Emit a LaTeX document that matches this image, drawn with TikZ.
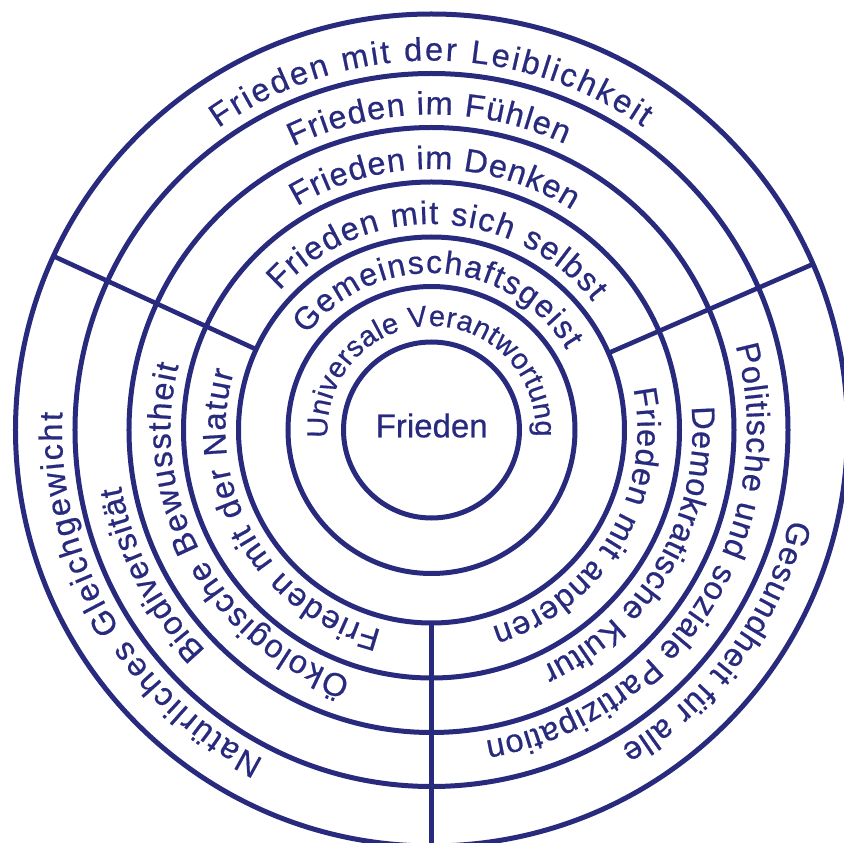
\documentclass[tikz,border=0pt]{standalone}
\usepackage{fontspec}
\setmainfont[FakeBold=0.6,AutoFakeBold=0.6]{Liberation Sans}
\newfontfamily\lblfam[FakeBold=0.6]{Liberation Sans}
\usetikzlibrary{decorations.text}
\definecolor{navy}{RGB}{40,42,126}
\newcommand\ringfont{\lblfam\fontsize{32.5pt}{32.5pt}\selectfont}
\newcommand\midfont{\lblfam\fontsize{32pt}{32pt}\selectfont}
\newcommand\innerfont{\lblfam\fontsize{29pt}{29pt}\selectfont}
\newcommand\corefont{\lblfam\fontsize{33pt}{33pt}\selectfont}
% radius, start angle, end angle, font, text
\newcommand\ringlabel[5]{%
  \path[decorate, decoration={text along path, text={|#4|#5},
        text align={fit to path}, text color=navy}]
    (#2:#1pt) arc[start angle=#2, end angle=#3, radius=#1pt];}
\tikzset{
  ring/.style={draw=navy, line width=5pt},
  divider/.style={draw=navy, line width=4.6pt},
}
\begin{document}
\begin{tikzpicture}
\useasboundingbox (-431.5pt,-413pt) rectangle (411.5pt,430pt);
\coordinate (c) at (0pt,0pt);
% circles
\foreach \r in {88,143.5,193,248,302.5,356.5,416}
  \draw[ring] (c) circle[radius=\r pt];
% dividers
\coordinate (dl1) at (155.3:193pt);
\coordinate (dl2) at (155.3:416pt);
\coordinate (dr1) at (23.5:193pt);
\coordinate (dr2) at (23.5:416pt);
\coordinate (db1) at (270:193pt);
\coordinate (db2) at (270:416pt);
\draw[divider] (dl1) -- (dl2);
\draw[divider] (dr1) -- (dr2);
\draw[divider] (db1) -- (db2);
% centre
\node[text=navy, font=\corefont, inner sep=0pt] (core) at (0.2pt,4.5pt) {Frieden};
% inner rings
\ringlabel{104}{184.4}{-3.7}{\innerfont}{Universale Verantwortung}
\ringlabel{157}{142.6}{30.7}{\midfont}{Gemeinschaftsgeist}
% top sector
\ringlabel{206}{137.5}{38.5}{\ringfont}{Frieden mit sich selbst}
\ringlabel{261}{121}{57.5}{\ringfont}{Frieden im Denken}
\ringlabel{315.5}{116}{65}{\ringfont}{Frieden im Fühlen}
\ringlabel{369.5}{125.2}{55.1}{\ringfont}{Frieden mit der Leiblichkeit}
% left sector
\ringlabel{206}{256}{163.6}{\ringfont}{Frieden mit der Natur}
\ringlabel{261}{252}{165.7}{\ringfont}{Ökologische Bewusstheit}
\ringlabel{315.5}{224.3}{190.3}{\ringfont}{Biodiversität}
\ringlabel{369.5}{243}{177.3}{\ringfont}{Natürliches Gleichgewicht}
% right sector
\ringlabel{206}{11.5}{-73}{\ringfont}{Frieden mit anderen}
\ringlabel{261}{5.1}{-65}{\ringfont}{Demokratische Kultur}
\ringlabel{315.5}{15.5}{-80.2}{\ringfont}{Politische und soziale Partizipation}
\ringlabel{369.5}{-14}{-59.2}{\ringfont}{Gesundheit für alle}
\end{tikzpicture}
\end{document}
